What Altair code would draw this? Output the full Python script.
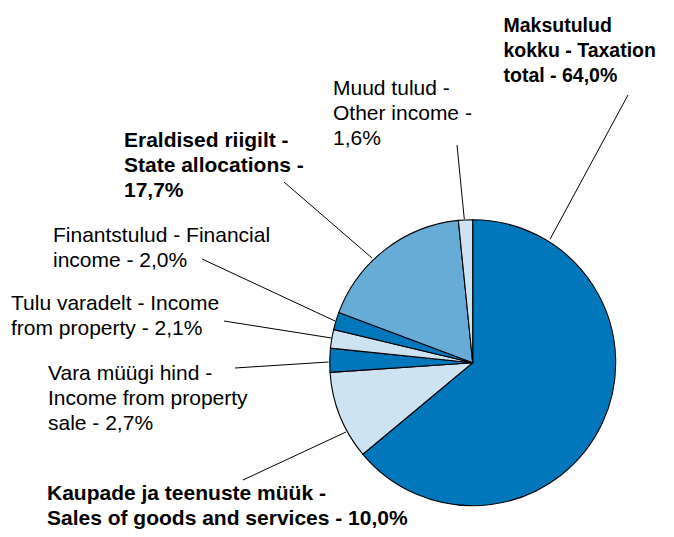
import altair as alt
import pandas as pd

# ---- data ----
categories = [
    "Maksutulud kokku - Taxation total",
    "Kaupade ja teenuste müük - Sales of goods and services",
    "Vara müügi hind - Income from property sale",
    "Tulu varadelt - Income from property",
    "Finantstulud - Financial income",
    "Eraldised riigilt - State allocations",
    "Muud tulud - Other income",
]
shares = [64.0, 10.0, 2.7, 2.1, 2.0, 17.7, 1.6]
label_lines = [
    ["Maksutulud", "kokku - Taxation", "total - 64,0%"],
    ["Kaupade ja teenuste müük -", "Sales of goods and services - 10,0%"],
    ["Vara müügi hind -", "Income from property", "sale - 2,7%"],
    ["Tulu varadelt - Income", "from property - 2,1%"],
    ["Finantstulud - Financial", "income - 2,0%"],
    ["Eraldised riigilt -", "State allocations -", "17,7%"],
    ["Muud tulud -", "Other income -", "1,6%"],
]
bold_label = [True, True, False, False, False, True, False]

# ---- styling / layout (not data) ----
DARK, LIGHT, MID = "#0077bb", "#cde3f1", "#67acd6"
slice_colors = [DARK, LIGHT, DARK, LIGHT, DARK, MID, LIGHT]
W, H = 658, 521
CX, CY, R = 464.7, 354.7, 143
# label anchors (left edge, first baseline) in pixels, and font sizes
label_x = [495.5, 39, 40, 3, 45, 116, 325]
label_y = [23.5, 492, 372, 302, 234, 139, 87]
label_fs = [19.5, 21, 21, 21, 21, 21, 21]
label_lh = [24, 25, 25, 25, 25, 25, 25.5]
# leader lines: outer end, inner end (pixels)
lead_x1 = [620, 235, 227, 216, 194, 276, 449]
lead_y1 = [87, 472, 360, 313, 251, 174, 137]
lead_x2 = [542, 338, 320.5, 323.5, 327, 364, 456.3]
lead_y2 = [231.3, 424, 354, 330, 313, 250, 211.3]

df = pd.DataFrame({
    "category": categories,
    "share": shares,
    "idx": list(range(len(categories))),
    "color": slice_colors,
})

lab = pd.DataFrame({
    "category": categories,
    "lines": label_lines,
    "bold": bold_label,
    "lx": label_x,
    "ly": label_y,
    "fs": label_fs,
    "x1": lead_x1,
    "y1": lead_y1,
    "x2": lead_x2,
    "y2": lead_y2,
})

pie = alt.Chart(df).mark_arc(
    outerRadius=R, stroke="black", strokeWidth=1.1
).encode(
    theta=alt.Theta("share:Q", stack=True),
    order=alt.Order("idx:Q"),
    color=alt.Color("color:N", scale=None),
    x=alt.value(CX),
    y=alt.value(CY),
)

leaders = alt.Chart(lab).mark_rule(color="black", strokeWidth=1).encode(
    x=alt.X("x1:Q", scale=None),
    y=alt.Y("y1:Q", scale=None),
    x2="x2:Q",
    y2="y2:Q",
)

def text_layer(is_bold):
    return alt.Chart(lab).transform_filter(
        alt.datum.bold if is_bold else ~alt.datum.bold
    ).mark_text(
        align="left",
        baseline="alphabetic",
        font="Liberation Sans",
        fontWeight="bold" if is_bold else "normal",
        lineHeight=25,
        color="black",
    ).encode(
        x=alt.X("lx:Q", scale=None),
        y=alt.Y("ly:Q", scale=None),
        size=alt.Size("fs:Q", scale=None),
        text="lines",
    )

chart = alt.layer(leaders, pie, text_layer(False), text_layer(True)).properties(
    width=W,
    height=H,
    padding=0,
    autosize=alt.AutoSizeParams(type="none"),
    background="white",
).configure_view(stroke=None)

chart.save("out.html", embed_options={"renderer": "svg", "actions": False})
